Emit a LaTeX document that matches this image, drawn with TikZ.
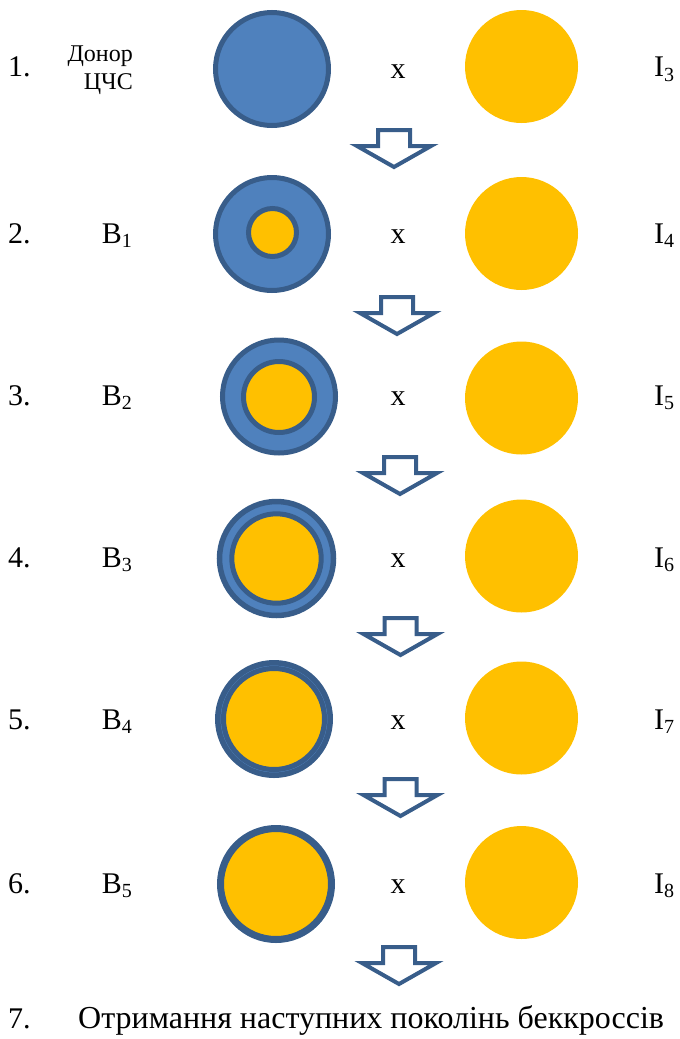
\documentclass[tikz,border=0pt]{standalone}
\usepackage{fontspec}
\setmainfont{Liberation Serif}
\newfontfamily\tnr{Liberation Serif}
\definecolor{lblue}{HTML}{4F81BD}
\definecolor{dblue}{HTML}{385D8A}
\definecolor{gold}{HTML}{FFC000}
\newcommand\sbs[1]{\raisebox{-4.5pt}{\fontsize{20}{20}\selectfont #1}}
\begin{document}
\begin{tikzpicture}[x=1pt,y=-1pt,
  lbl/.style={font=\tnr\fontsize{30}{30}\selectfont, inner sep=0pt, anchor=base west},
  cross/.style={font=\tnr\fontsize{30}{30}\selectfont, inner sep=0pt, anchor=base},
  small/.style={font=\tnr\fontsize{24}{24}\selectfont, inner sep=0pt, anchor=base east},
  ring/.style={draw=dblue, line width=5pt, fill=lblue},
  core/.style={draw=dblue, line width=5pt, fill=gold},
  recur/.style={fill=gold},
  arr/.style={draw=dblue, line width=4pt, fill=white, line join=miter},
  barrow/.pic={\path[arr] (-16,0) -- (16,0) -- (16,16) -- (37,16) -- (0,37) -- (-37,16) -- (-16,16) -- cycle;}
]
\useasboundingbox (0,0) rectangle (680,1039);

% row 1
\path[ring] (272,69) circle (56.5pt);
\path[recur] (521.5,66.5) circle (56.5pt);
\node[lbl] (n1) at (8,76.5) {1.};
\node[small] (d1) at (133,61.7) {Донор};
\node[small] (d2) at (133,89.3) {ЦЧС};
\node[cross] (x1) at (398,78) {x};
\node[lbl] (i3) at (654,76.7) {I\sbs{3}};

% row 2
\path[ring] (272,234) circle (56.5pt);
\path[core] (272.5,232.5) circle (24pt);
\path[recur] (521.5,233.5) circle (56.5pt);
\node[lbl] (n2) at (8,243) {2.};
\node[lbl] (b1) at (101.7,243) {B\sbs{1}};
\node[cross] (x2) at (398,243) {x};
\node[lbl] (i4) at (654,243) {I\sbs{4}};

% row 3
\path[ring] (279,396.5) circle (56.5pt);
\path[core] (279,397) circle (35.5pt);
\path[recur] (521.5,398) circle (56.5pt);
\node[lbl] (n3) at (8,405) {3.};
\node[lbl] (b2) at (101.7,405) {B\sbs{2}};
\node[cross] (x3) at (398,405) {x};
\node[lbl] (i5) at (654,405) {I\sbs{5}};

% row 4
\path[ring, line width=5.5pt] (276.5,558.5) circle (57pt);
\path[core] (276.5,558.5) circle (44.7pt);
\path[recur] (521.5,556) circle (56.5pt);
\node[lbl] (n4) at (8,567) {4.};
\node[lbl] (b3) at (101.7,567) {B\sbs{3}};
\node[cross] (x4) at (398,567) {x};
\node[lbl] (i6) at (654,567) {I\sbs{6}};

% row 5
\path[ring, line width=5.5pt] (274,719) circle (56.25pt);
\path[core] (274,719) circle (50.5pt);
\path[recur] (521.5,718) circle (56.5pt);
\node[lbl] (n5) at (8,729) {5.};
\node[lbl] (b4) at (101.7,729) {B\sbs{4}};
\node[cross] (x5) at (398,729) {x};
\node[lbl] (i7) at (654,729) {I\sbs{7}};

% row 6
\path[core, line width=7pt] (276,884) circle (55.5pt);
\path[recur] (521.5,882.5) circle (56.5pt);
\node[lbl] (n6) at (8,893) {6.};
\node[lbl] (b5) at (101.7,893) {B\sbs{5}};
\node[cross] (x6) at (398,893) {x};
\node[lbl] (i8) at (654,893) {I\sbs{8}};

% arrows
\pic at (394,130) {barrow};
\pic at (397,297) {barrow};
\pic at (400,457) {barrow};
\pic at (400.5,618) {barrow};
\pic at (400.5,779) {barrow};
\pic at (399,947) {barrow};

% row 7
\node[lbl] (n7) at (8,1028) {7.};
\node[lbl, font=\tnr\fontsize{32}{32}\selectfont] (res) at (78,1028) {Отримання наступних поколінь беккроссів};
\end{tikzpicture}
\end{document}
